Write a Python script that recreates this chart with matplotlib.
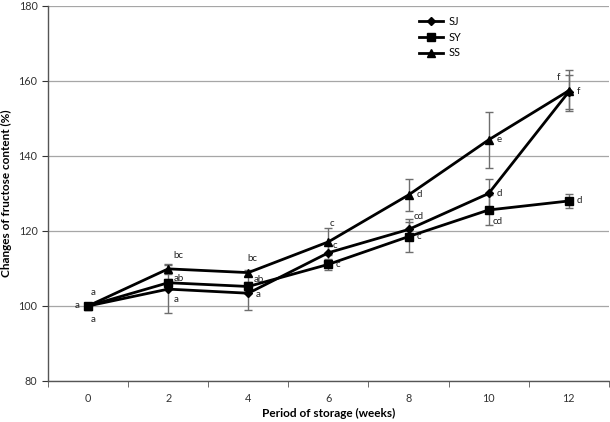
import numpy as np
import matplotlib
matplotlib.use("Agg")
import matplotlib.pyplot as plt

plt.rcParams['font.family'] = ['Lato', 'DejaVu Sans']

# data
weeks = ['0', '2', '4', '6', '8', '10', '12']

sj = [100, 104.5, 103.4, 114.2, 120.4, 130.0, 157.1]
sy = [100, 106.2, 105.2, 111.1, 118.5, 125.6, 128.0]
ss = [100, 109.9, 108.9, 117.1, 129.6, 144.3, 157.4]

sj_err = [0, 6.3, 4.5, 2.0, 2.7, 3.9, 4.5]
sy_err = [0, 1.0, 1.2, 1.5, 4.0, 4.0, 1.8]
ss_err = [0, 1.4, 0.8, 3.6, 4.2, 7.5, 5.5]

sj_letters = ['a', 'a', 'a', 'c', 'cd', 'd', 'f']
sy_letters = ['a', 'ab', 'ab', 'c', 'c', 'cd', 'd']
ss_letters = ['a', 'bc', 'bc', 'c', 'd', 'e', 'f']

# letter offsets in pixels (dx right, dy up)
sj_off = [(-11, 0), (8, -10), (10, -1), (7, 7), (10, 13), (11, 0), (10, 0)]
sy_off = [(5, -14), (11, 4), (11, 7), (10, 0), (10, 0), (9, -12), (11, 0)]
ss_off = [(5, 13), (10, 13), (4, 14), (4, 18), (11, 0), (11, 0), (-10, 13)]

fig = plt.figure(figsize=(6.1, 4.22), dpi=100)
ax = fig.add_axes([0.0787, 0.0972, 0.9193, 0.8886])

x = np.arange(len(weeks))

series = [
    ('SJ', sj, sj_err, sj_letters, sj_off, 'D', 4.5),
    ('SY', sy, sy_err, sy_letters, sy_off, 's', 6),
    ('SS', ss, ss_err, ss_letters, ss_off, '^', 6),
]

for name, vals, err, letters, offs, mk, ms in series:
    ax.errorbar(x, vals, yerr=err, fmt='none', ecolor='#6e6e6e',
                elinewidth=1.0, capsize=3, capthick=1.0, zorder=2)
    ax.plot(x, vals, color='black', lw=2, marker=mk, markersize=ms,
            label=name, zorder=3)
    for i, (lab, (dx, dy)) in enumerate(zip(letters, offs)):
        ax.annotate(lab, xy=(x[i], vals[i]), xytext=(dx * 0.72, dy * 0.72),
                    textcoords='offset points', ha='center', va='center',
                    fontsize=7, color='#222222')

ax.set_xlim(-0.5, len(weeks) - 0.5)
ax.set_ylim(80, 180)
ax.set_yticks(np.arange(80, 181, 20))
ax.set_xticks(x)
ax.set_xticklabels(weeks)
ax.set_xticks(np.arange(-0.5, len(weeks), 1), minor=True)
ax.tick_params(axis='x', which='major', length=0, pad=9, labelsize=7.8, colors='#333333')
ax.tick_params(axis='x', which='minor', length=4, direction='out', color='#555555')
ax.tick_params(axis='y', length=4, direction='out', labelsize=7.8, colors='#333333')

ax.yaxis.grid(True, color='#a6a6a6', lw=0.9)
ax.set_axisbelow(True)
for s in ['top', 'right']:
    ax.spines[s].set_visible(False)
for s in ['left', 'bottom']:
    ax.spines[s].set_color('#555555')
    ax.spines[s].set_linewidth(1.0)

ax.set_xlabel('Period of storage (weeks)', fontsize=8.5, fontweight='bold')
ax.xaxis.set_label_coords(0.5, -0.072)
ax.set_ylabel('Changes of fructose content (%)', fontsize=8.5, fontweight='bold')
ax.yaxis.set_label_coords(-0.064, 0.5)

leg = ax.legend(loc='upper left', bbox_to_anchor=(0.645, 1.0), frameon=False,
                fontsize=7.8, handlelength=2.2, labelspacing=0.45, handletextpad=0.5,
                markerscale=0.9)

fig.savefig('out.png', dpi=100)
